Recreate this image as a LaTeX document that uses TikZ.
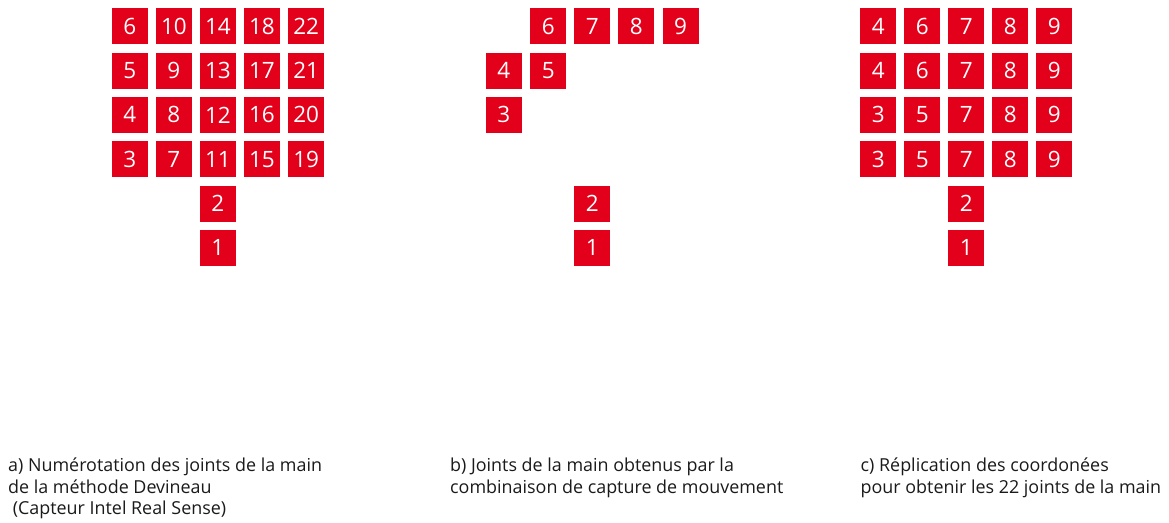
\documentclass[tikz,border=0pt]{standalone}
\usepackage{fontspec}
\setmainfont{Open Sans}
\definecolor{boxred}{HTML}{E2001A}
\definecolor{captxt}{HTML}{1A1A1A}
\tikzset{
  joint/.style={fill=boxred, draw=none, minimum width=36pt, minimum height=36pt, inner sep=0pt,
    text=white, font=\fontsize{22.5}{22.5}\selectfont, anchor=north west},
  caption/.style={anchor=base west, align=left, inner sep=0pt, text=captxt,
    font=\fontsize{17.9}{21.5}\selectfont}
}
\begin{document}
\begin{tikzpicture}[x=1pt,y=-1pt]
\useasboundingbox (0,0) rectangle (1169,522);
% panel a
\foreach \c/\x in {0/111.7,1/155.7,2/199.7,3/243.7,4/288}{
  \foreach \r/\y in {0/8,1/52.3,2/96.7,3/141}{
    \pgfmathtruncatemacro{\n}{3+4*\c+(3-\r)}
    \node[joint] (a\n) at (\x,\y) {\n};
  }
}
\node[joint] (a2) at (199.7,185.3) {2};
\node[joint] (a1) at (199.7,229.7) {1};
% panel b
\node[joint] (b6) at (530,8) {6};
\node[joint] (b7) at (574,8) {7};
\node[joint] (b8) at (618,8) {8};
\node[joint] (b9) at (662.3,8) {9};
\node[joint] (b4) at (485.7,52.3) {4};
\node[joint] (b5) at (530,52.3) {5};
\node[joint] (b3) at (485.7,96.7) {3};
\node[joint] (b2) at (574,185.3) {2};
\node[joint] (b1) at (574,229.7) {1};
% panel c
\foreach \r/\y/\p/\q in {0/8/4/6,1/52.3/4/6,2/96.7/3/5,3/141/3/5}{
  \node[joint] (c\r a) at (860,\y) {\p};
  \node[joint] (c\r b) at (904,\y) {\q};
  \node[joint] (c\r c) at (948,\y) {7};
  \node[joint] (c\r d) at (992,\y) {8};
  \node[joint] (c\r e) at (1036,\y) {9};
}
\node[joint] (c2) at (948,185.3) {2};
\node[joint] (c1) at (948,229.7) {1};
% captions (base anchor = baseline of last line)
\node[caption] (capa) at (8,514.7) {a) Numérotation des joints de la main\\de la méthode Devineau\\\ (Capteur Intel Real Sense)};
\node[caption] (capb) at (450,493.2) {b) Joints de la main obtenus par la\\combinaison de capture de mouvement};
\node[caption] (capc) at (860.5,493.2) {c) Réplication des coordonées\\pour obtenir les 22 joints de la main};
\end{tikzpicture}
\end{document}
